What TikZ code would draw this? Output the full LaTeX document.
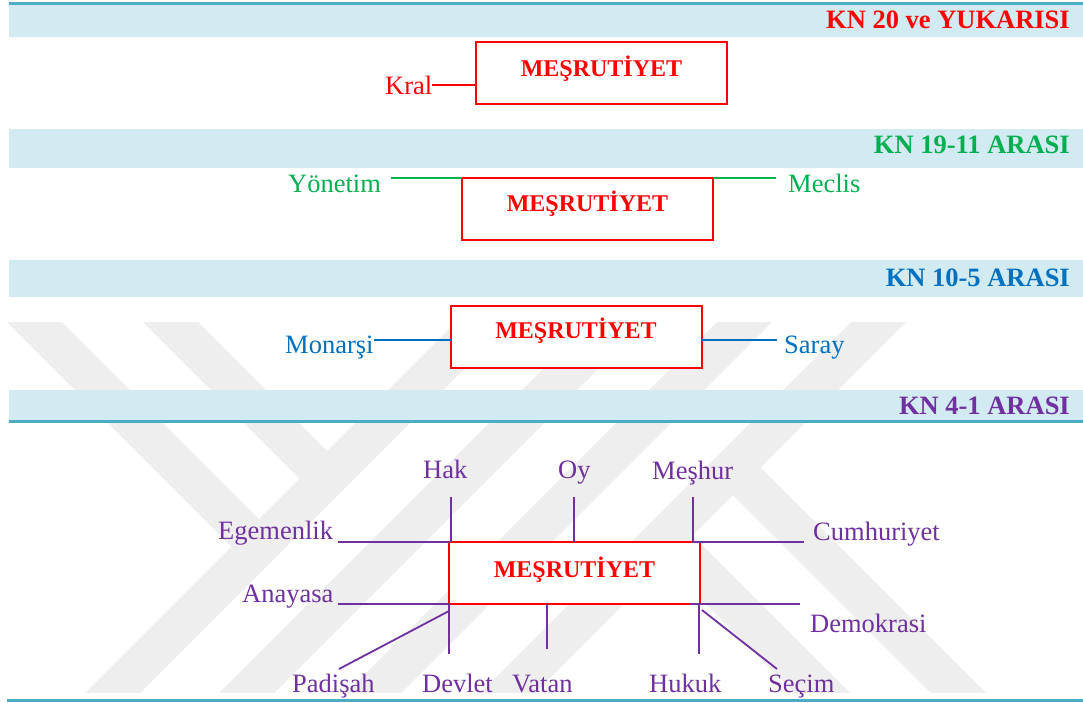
\documentclass[tikz,border=0pt]{standalone}
\usepackage{fontspec}
\setmainfont{Liberation Serif}
\definecolor{tealline}{HTML}{4BACC6}
\definecolor{bandc}{HTML}{D2EAF1}
\definecolor{kred}{HTML}{FF0000}
\definecolor{kgreen}{HTML}{00B050}
\definecolor{kblue}{HTML}{0070C0}
\definecolor{kpurple}{HTML}{7030A0}
\definecolor{wm}{HTML}{EEEEEE}
\tikzset{
  lbl/.style={font=\fontsize{26.5}{30}\selectfont, inner sep=0pt, anchor=base west},
  ttl/.style={font=\bfseries\fontsize{26.5}{30}\selectfont, inner sep=0pt, anchor=base east},
  boxtxt/.style={font=\bfseries\fontsize{24}{28}\selectfont, text=kred, inner sep=0pt, anchor=base},
  mbox/.style={draw=kred, line width=2pt, fill=white, inner sep=0pt, outer sep=0pt, minimum width=251pt, minimum height=62pt},
  conn/.style={draw=#1, line width=1.8pt},
  band/.style={fill=bandc},
  wmstripe/.style={draw=wm, line width=38.9pt, line cap=butt}
}
\begin{document}
\begin{tikzpicture}[x=1pt,y=-1pt]
\useasboundingbox (0,0) rectangle (1083,702);
\fill[white] (0,0) rectangle (1083,702);
% watermark
\begin{scope}
\clip (0,322) rectangle (1083,692);
\draw[wmstripe] (73.5,732) -- (523.5,282);
\draw[wmstripe] (207.5,732) -- (657.5,282);
\draw[wmstripe] (4.5,292) -- (259,546.5);
\draw[wmstripe] (140.5,292) -- (327,478.5);
\draw[wmstripe] (918.5,282) -- (468.5,732);
\draw[wmstripe] (784.5,282) -- (334.5,732);
\draw[wmstripe] (987.5,722) -- (733,467.5);
\draw[wmstripe] (851.5,722) -- (665,535.5);
\end{scope}
% bands
\fill[tealline] (9,2) rectangle (1083,5);
\fill[band] (9,5) rectangle (1083,37);
\fill[band] (9,129) rectangle (1083,168);
\fill[band] (9,260) rectangle (1083,297);
\fill[band] (9,390) rectangle (1083,420);
\fill[tealline] (9,420) rectangle (1083,423);
\fill[tealline] (7,699) rectangle (1083,702);
% titles
\node[ttl, text=kred] (t1) at (1070,28) {KN 20 ve YUKARISI};
\node[ttl, text=kgreen] (t2) at (1070,153) {KN 19-11 ARASI};
\node[ttl, text=kblue] (t3) at (1070,286) {KN 10-5 ARASI};
\node[ttl, text=kpurple] (t4) at (1070,414) {KN 4-1 ARASI};
% row 1
\node[mbox] (b1) at (601.5,73) {};
\node[boxtxt] (m1) at (601.5,76) {MEŞRUTİYET};
\node[lbl, text=kred] (kral) at (385,94) {Kral};
\draw[conn=kred] (kral.east) -- (b1.west |- kral.east);
% row 2
\node[mbox] (b2) at (587.5,209) {};
\node[boxtxt] (m2) at (587.5,211) {MEŞRUTİYET};
\node[lbl, text=kgreen] (yon) at (288,192) {Yönetim};
\node[lbl, text=kgreen] (mec) at (788,192) {Meclis};
\coordinate (y2a) at (391,178);
\coordinate (y2b) at (776,178);
\draw[conn=kgreen] (y2a) -- (b2.north west);
\draw[conn=kgreen] (b2.north east) -- (y2b);
% row 3
\node[mbox] (b3) at (576,337) {};
\node[boxtxt] (m3) at (576,338) {MEŞRUTİYET};
\node[lbl, text=kblue] (mon) at (285,353) {Monarşi};
\node[lbl, text=kblue] (sar) at (784,353) {Saray};
\coordinate (l3a) at (374,340);
\coordinate (l3b) at (777,340);
\draw[conn=kblue] (l3a) -- (b3.west |- l3a);
\draw[conn=kblue] (b3.east |- l3b) -- (l3b);
% row 4
\node[mbox] (b4) at (574.5,573) {};
\node[boxtxt] (m4) at (574.5,577) {MEŞRUTİYET};
\node[lbl, text=kpurple] (hak) at (423,478) {Hak};
\node[lbl, text=kpurple] (oy) at (558,478) {Oy};
\node[lbl, text=kpurple] (mes) at (652,479) {Meşhur};
\node[lbl, text=kpurple] (ege) at (218,539) {Egemenlik};
\node[lbl, text=kpurple] (cum) at (813,540) {Cumhuriyet};
\node[lbl, text=kpurple] (ana) at (242,602) {Anayasa};
\node[lbl, text=kpurple] (dem) at (810,632) {Demokrasi};
\node[lbl, text=kpurple] (pad) at (292,692) {Padişah};
\node[lbl, text=kpurple] (dev) at (422,692) {Devlet};
\node[lbl, text=kpurple] (vat) at (512,692) {Vatan};
\node[lbl, text=kpurple] (huk) at (649,692) {Hukuk};
\node[lbl, text=kpurple] (sec) at (768,692) {Seçim};
\coordinate (egc) at (338,542);
\coordinate (anc) at (338,604);
\coordinate (hkc) at (451,497);
\coordinate (oyc) at (574,497);
\coordinate (msc) at (693,497);
\coordinate (cuc) at (804,542);
\coordinate (dmc) at (800,604);
\coordinate (dvc) at (449,654);
\coordinate (pdc) at (339,669);
\coordinate (vtc) at (547,649);
\coordinate (huc) at (699,654);
\coordinate (scc) at (777,669);
\draw[conn=kpurple] (egc) -- (b4.north west);
\draw[conn=kpurple] (anc) -- (b4.south west);
\draw[conn=kpurple] (hkc) -- (hkc |- b4.north);
\draw[conn=kpurple] (oyc) -- (oyc |- b4.north);
\draw[conn=kpurple] (msc) -- (msc |- b4.north) -- (cuc);
\draw[conn=kpurple] ([xshift=-10pt]b4.south east) -- (dmc);
\draw[conn=kpurple] (b4.south west) -- (dvc);
\draw[conn=kpurple] ([yshift=-7pt]b4.south west) -- (pdc);
\draw[conn=kpurple] (vtc |- b4.south) -- (vtc);
\draw[conn=kpurple] ([xshift=-1pt]b4.south east) -- (huc);
\draw[conn=kpurple] ([xshift=2pt,yshift=-6pt]b4.south east) -- (scc);
\end{tikzpicture}
\end{document}
